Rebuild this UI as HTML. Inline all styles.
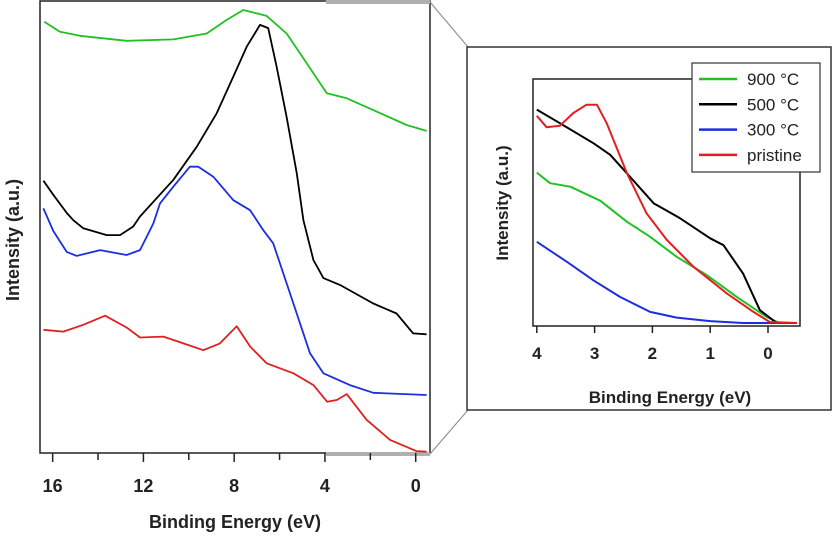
<!DOCTYPE html>
<html><head><meta charset="utf-8"><style>
body{margin:0;background:#fff;}
svg{display:block;font-family:"Liberation Sans",Arial,sans-serif;}
</style></head><body>
<svg id="c" width="833" height="538" xmlns="http://www.w3.org/2000/svg"></svg>
<script>
// ---- main chart data (eV, intensity a.u. 0-100) ----
const mainTicks = [16, 12, 8, 4, 0];
const mainMinor = [14, 10, 6, 2];
const g900E = [16.37,15.68,14.8,12.74,10.68,9.21,8.33,7.6,6.57,5.69,4.8,3.92,3.04,1.87,0.4,-0.48];
const g900V = [95.2,93.0,92.1,91.0,91.3,92.6,95.6,97.8,96.5,92.6,86.0,79.4,78.3,75.7,72.4,71.1];
const b500E = [16.41,15.97,15.38,15.09,14.65,13.62,13.03,12.45,12.15,10.68,9.65,8.77,8.04,7.45,6.86,6.5,6.13,5.69,5.24,4.95,4.51,4.07,3.34,1.87,0.84,0.11,-0.48];
const b500V = [60.1,57.0,53.0,51.4,49.6,48.1,48.1,50.0,52.2,60.3,67.6,75.0,83.1,89.7,94.5,93.8,85.3,74.2,61.7,51.4,42.6,38.6,37.1,33.0,30.8,26.4,26.2];
const c300E = [16.41,15.97,15.38,14.94,13.91,12.74,12.15,11.56,11.27,10.68,9.95,9.58,8.92,8.04,7.3,6.72,6.28,5.39,4.66,4.07,2.9,1.87,-0.48];
const c300V = [54.0,49.0,44.4,43.5,44.8,43.7,44.8,50.7,55.1,58.8,63.2,63.2,61.0,55.8,53.6,49.2,46.3,33.0,22.0,17.6,15.0,13.3,12.8];
const prisE = [16.41,15.53,14.65,13.69,12.74,12.15,11.12,10.24,9.36,8.63,7.89,7.3,6.57,5.39,4.51,3.9,3.48,3.04,2.16,1.13,-0.04,-0.48];
const prisV = [27.2,26.8,28.3,30.3,27.7,25.5,25.7,24.2,22.7,24.2,28.0,23.5,19.8,17.6,15.0,11.3,11.7,13.0,7.3,2.9,0.4,0.3];
// ---- inset data ----
const insTicks = [4, 3, 2, 1, 0];
const iGE = [4.0,3.77,3.42,2.9,2.44,2.04,1.58,1.06,0.54,0.02,-0.2,-0.5];
const iGV = [62.1,57.8,56.4,50.7,42.2,36.1,28.0,20.6,11.8,3.6,1.2,1.2];
const iKE = [4.0,3.6,3.02,2.73,2.44,1.98,1.52,1.0,0.77,0.43,0.14,-0.15,-0.5];
const iKV = [87.6,82.1,74.0,69.3,61.8,49.7,43.6,35.5,32.7,21.2,6.4,1.2,1.2];
const iRE = [4.0,3.83,3.6,3.37,3.14,2.96,2.79,2.44,2.1,1.75,1.29,0.71,0.25,-0.03,-0.5];
const iRV = [85.1,80.5,81.1,86.2,89.6,89.6,82.1,61.8,45.6,34.8,24.0,13.1,5.7,1.6,1.2];
const iBE = [4.0,3.48,3.02,2.56,2.04,1.58,1.0,0.43,-0.5];
const iBV = [34.1,26.0,18.5,11.8,5.7,3.4,2.0,1.2,1.2];
const legendLabels = ["900 °C","500 °C","300 °C","pristine"];
const legendColors = ["#22c022","#000000","#1c2ee0","#e02020"];

const NS="http://www.w3.org/2000/svg", svg=document.getElementById('c');
function el(t,a,p){const e=document.createElementNS(NS,t);for(const k in a)e.setAttribute(k,a[k]);(p||svg).appendChild(e);return e;}
const mx=e=>415.7-e*22.69, my=v=>453-v*4.53;
const ix=e=>768-e*57.8, iy=v=>326-v*2.47;

let r=el('rect',{x:40,y:1,width:390,height:452,fill:'none',stroke:'#222','stroke-width':1.5});

let gb=el('line',{x1:326,y1:2,x2:430,y2:2,stroke:'#b0b0b0','stroke-width':4});

gb=el('line',{x1:326,y1:454,x2:430,y2:454,stroke:'#b0b0b0','stroke-width':4});

let cl=el('line',{x1:430,y1:2,x2:468,y2:47,stroke:'#888','stroke-width':1});

cl=el('line',{x1:430,y1:454,x2:468,y2:410,stroke:'#888','stroke-width':1});


mainTicks.forEach(t=>{
  const tk=el('line',{x1:mx(t),y1:453,x2:mx(t),y2:462,stroke:'#222','stroke-width':1.5});
  
  const tx=el('text',{x:mx(t),y:492,'text-anchor':'middle','font-size':18,'font-weight':'bold',fill:'#222'});
  tx.textContent=t;
  
});
mainMinor.forEach(t=>{
  const tk=el('line',{x1:mx(t),y1:453,x2:mx(t),y2:460,stroke:'#222','stroke-width':1.5});
  
});
let t=el('text',{x:235,y:528,'text-anchor':'middle','font-size':18,'font-weight':'bold',fill:'#222'});
t.textContent='Binding Energy (eV)';
t=el('text',{x:0,y:0,transform:'translate(19,240) rotate(-90)','text-anchor':'middle','font-size':18,'font-weight':'bold',fill:'#222'});
t.textContent='Intensity (a.u.)';

function line(E,V,fx,fy,col,name,w){
  const d=E.map((e,i)=>(i?'L':'M')+fx(e).toFixed(1)+' '+fy(V[i]).toFixed(1)).join('');
  const p=el('path',{d:d,fill:'none',stroke:col,'stroke-width':w,'stroke-linejoin':'round'});
  
}
line(g900E,g900V,mx,my,legendColors[0],'series-900c',1.8);
line(b500E,b500V,mx,my,legendColors[1],'series-500c',1.8);
line(c300E,c300V,mx,my,legendColors[2],'series-300c',1.8);
line(prisE,prisV,mx,my,legendColors[3],'series-pristine',1.8);

// inset
r=el('rect',{x:467,y:47,width:364,height:363,fill:'#fff',stroke:'#333','stroke-width':1.5});

r=el('rect',{x:533,y:79,width:267,height:247,fill:'none',stroke:'#222','stroke-width':1.5});

insTicks.forEach(v=>{
  const tk=el('line',{x1:ix(v),y1:326,x2:ix(v),y2:333,stroke:'#222','stroke-width':1.5});
  
  const tx=el('text',{x:ix(v),y:359,'text-anchor':'middle','font-size':17,'font-weight':'bold',fill:'#222'});
  tx.textContent=v;
  
});
t=el('text',{x:670,y:403,'text-anchor':'middle','font-size':17,'font-weight':'bold',fill:'#222'});
t.textContent='Binding Energy (eV)';
t=el('text',{x:0,y:0,transform:'translate(508,203) rotate(-90)','text-anchor':'middle','font-size':17,'font-weight':'bold',fill:'#222'});
t.textContent='Intensity (a.u.)';
line(iGE,iGV,ix,iy,legendColors[0],'inset-series-900c',2);
line(iKE,iKV,ix,iy,legendColors[1],'inset-series-500c',2);
line(iBE,iBV,ix,iy,legendColors[2],'inset-series-300c',2);
line(iRE,iRV,ix,iy,legendColors[3],'inset-series-pristine',2);

r=el('rect',{x:692,y:63,width:128,height:109,fill:'#fff',stroke:'#333','stroke-width':1.2});

legendLabels.forEach((lab,i)=>{
  const y=79+i*25.3;
  const l=el('line',{x1:699,y1:y,x2:737,y2:y,stroke:legendColors[i],'stroke-width':2.5});
  
  const tx=el('text',{x:747,y:y+6,'font-size':17,fill:'#222'});
  tx.textContent=lab;
  
});
</script>
</body></html>
